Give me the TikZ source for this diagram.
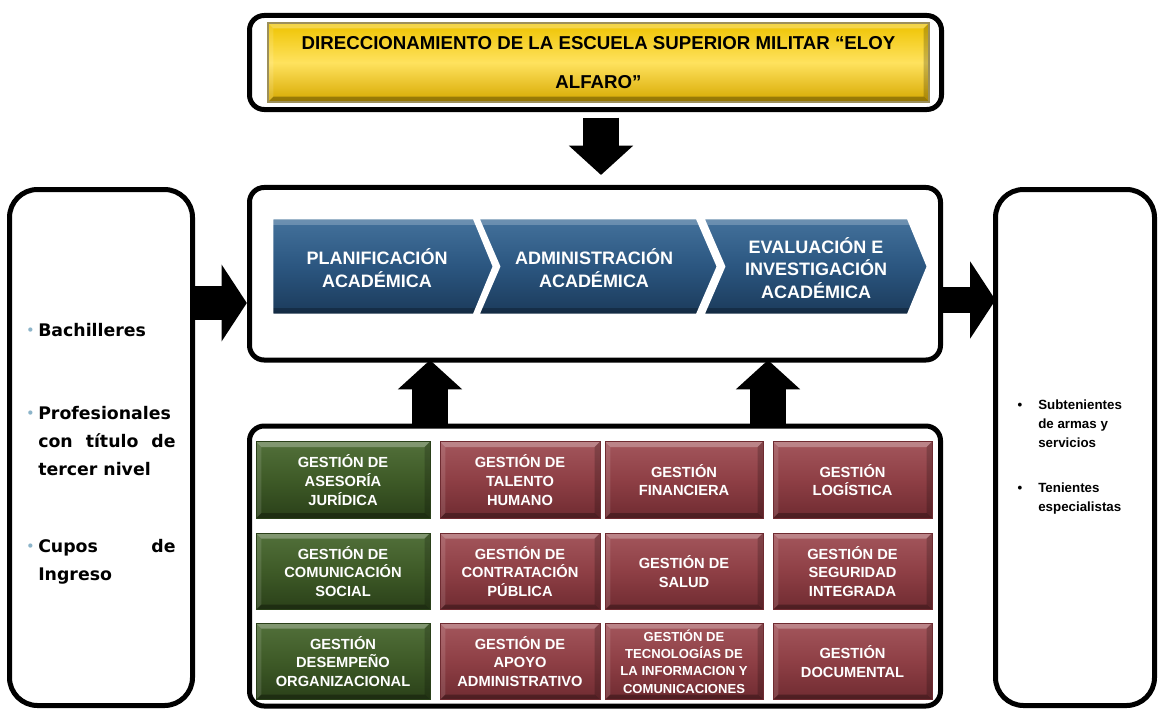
\documentclass[tikz,border=0pt]{standalone}
\usepackage{fontspec}
\setmainfont{Liberation Sans}
\newfontfamily\sidefont{DejaVu Sans}
\usepackage{xcolor}
\definecolor{chevtop}{HTML}{44729C}
\definecolor{chev}{HTML}{2B5680}
\definecolor{chevbot}{HTML}{1B3A5A}
\definecolor{wine}{HTML}{8E3F45}
\definecolor{winetop}{HTML}{A3565C}
\definecolor{winebot}{HTML}{6F2B31}
\definecolor{forest}{HTML}{3E5A27}
\definecolor{foresttop}{HTML}{52703A}
\definecolor{forestbot}{HTML}{2A4019}
\definecolor{goldtop}{HTML}{EEC300}
\definecolor{gold}{HTML}{FFE25E}
\definecolor{goldbot}{HTML}{D6A800}
\definecolor{goldedge}{HTML}{9C8F5A}
\definecolor{bulletblue}{HTML}{8CB4C9}
\usepackage{tikz}
\usetikzlibrary{arrows.meta, calc}

\newcommand{\leftdot}{\llap{\raisebox{1.5pt}{\textcolor{bulletblue}{\fontsize{9}{9}\selectfont\textbullet}}\hspace{3pt}}}
\newcommand{\rightdot}{\llap{\textbullet\hspace{12pt}}}

\begin{document}
\begin{tikzpicture}[x=0.75pt, y=-0.75pt,
  every node/.style={font=\bfseries},
  frame/.style={rectangle, draw=black, line width=3.75pt, rounded corners=11pt,
                fill=white, inner sep=0pt, outer sep=0pt},
  sideframe/.style={frame, rounded corners=21pt},
  bevel/.style={path picture={
    \fill[white, opacity=.28] (path picture bounding box.north west) -- (path picture bounding box.north east)
      -- ([shift={(-4pt,-4pt)}]path picture bounding box.north east) -- ([shift={(4pt,-4pt)}]path picture bounding box.north west) -- cycle;
    \fill[white, opacity=.12] (path picture bounding box.north west) -- ([shift={(4pt,-4pt)}]path picture bounding box.north west)
      -- ([shift={(4pt,4pt)}]path picture bounding box.south west) -- (path picture bounding box.south west) -- cycle;
    \fill[black, opacity=.3] (path picture bounding box.south west) -- ([shift={(4pt,4pt)}]path picture bounding box.south west)
      -- ([shift={(-4pt,4pt)}]path picture bounding box.south east) -- (path picture bounding box.south east) -- cycle;
    \fill[black, opacity=.2] (path picture bounding box.south east) -- ([shift={(-4pt,4pt)}]path picture bounding box.south east)
      -- ([shift={(-4pt,-4pt)}]path picture bounding box.north east) -- (path picture bounding box.north east) -- cycle;
  }},
  chevbevel/.style={path picture={
    \fill[white, opacity=.22] (path picture bounding box.north west) rectangle ([yshift=-5pt]path picture bounding box.north east);
    \fill[black, opacity=.25] (path picture bounding box.south west) rectangle ([yshift=5pt]path picture bounding box.south east);
  }},
  chevron/.style={top color=chevtop, bottom color=chevbot, middle color=chev,
                  draw=white, line width=2pt, line join=miter, chevbevel},
  chevtext/.style={text=white, align=center, font=\fontsize{13.5}{17}\selectfont\bfseries},
  tile/.style={rectangle, inner sep=0pt, outer sep=0pt, draw=#1bot, line width=.6pt,
               top color=#1top, bottom color=#1bot, middle color=#1, bevel,
               text=white, align=center, minimum height=57.5pt,
               font=\fontsize{11}{14}\selectfont\bfseries},
  bigarrow/.style={draw=black, line width=27pt, -{Triangle[width=47pt, length=22pt]}},
  sidearrow/.style={draw=black, line width=#1, -{Triangle[width=57pt, length=19pt]}},
  lefttext/.style={anchor=north west, inner sep=0pt, align=left,
                   font=\sidefont\fontsize{13}{21}\selectfont\bfseries},
  righttext/.style={anchor=north west, inner sep=0pt, align=left,
                    font=\fontsize{10}{14}\selectfont\bfseries}
]
  \useasboundingbox (0,0) rectangle (1162,710);

  % frames
  \node[frame, minimum width=519pt, minimum height=70.5pt] (topbox) at (595.5,62.5) {};
  \node[frame, minimum width=518.25pt, minimum height=129.4pt] (midbox) at (595,273.75) {};
  \node[frame, minimum width=518.25pt, minimum height=210pt] (botbox) at (595,566) {};
  \node[sideframe, minimum width=137.25pt, minimum height=387pt] (leftbox) at (101,447.5) {};
  \node[sideframe, minimum width=119.25pt, minimum height=387pt] (rightbox) at (1075,447.5) {};

  % heading bar
  \node[rectangle, inner sep=0pt, draw=goldedge, line width=1.5pt,
        top color=goldtop, bottom color=goldbot, middle color=gold, bevel,
        minimum width=495.75pt, minimum height=59.25pt, align=center,
        font=\fontsize{14}{17}\selectfont\bfseries] (dirbar) at (598.5,62.5)
    {DIRECCIONAMIENTO DE LA ESCUELA SUPERIOR MILITAR “ELOY\\[12pt]ALFARO”};

  % process chevrons
  \path[chevron] (272,218) -- (474,218) -- (494,266.5) -- (474,315) -- (272,315) -- cycle;
  \path[chevron] (478,218) -- (697,218) -- (718,266.5) -- (697,315) -- (478,315) -- (499,266.5) -- cycle;
  \path[chevron] (703,218) -- (908,218) -- (928,266.5) -- (908,315) -- (703,315) -- (724,266.5) -- cycle;
  \node[chevtext] (plan) at (377,268) {PLANIFICACIÓN\\ACADÉMICA};
  \node[chevtext] (admin) at (594,268) {ADMINISTRACIÓN\\ACADÉMICA};
  \node[chevtext] (evalua) at (816,268) {EVALUACIÓN E\\INVESTIGACIÓN\\ACADÉMICA};

  % support processes
  \node[tile=forest, minimum width=130.5pt] (juridica) at (343,480) {GESTIÓN DE\\ASESORÍA\\JURÍDICA};
  \node[tile=wine, minimum width=120pt] (talento) at (520,480) {GESTIÓN DE\\TALENTO\\HUMANO};
  \node[tile=wine, minimum width=118.5pt] (financiera) at (684,480) {GESTIÓN\\FINANCIERA};
  \node[tile=wine, minimum width=119.25pt] (logistica) at (852.5,480) {GESTIÓN\\LOGÍSTICA};

  \node[tile=forest, minimum width=130.5pt] (comunicacion) at (343,571.5) {GESTIÓN DE\\COMUNICACIÓN\\SOCIAL};
  \node[tile=wine, minimum width=120pt] (contratacion) at (520,571.5) {GESTIÓN DE\\CONTRATACIÓN\\PÚBLICA};
  \node[tile=wine, minimum width=118.5pt] (salud) at (684,571.5) {GESTIÓN DE\\SALUD};
  \node[tile=wine, minimum width=119.25pt] (seguridad) at (852.5,571.5) {GESTIÓN DE\\SEGURIDAD\\INTEGRADA};

  \node[tile=forest, minimum width=130.5pt] (desempeno) at (343,661.5) {GESTIÓN\\DESEMPEÑO\\ORGANIZACIONAL};
  \node[tile=wine, minimum width=120pt] (apoyo) at (520,661.5) {GESTIÓN DE\\APOYO\\ADMINISTRATIVO};
  \node[tile=wine, minimum width=118.5pt, font=\fontsize{9.8}{13}\selectfont\bfseries] (tics) at (684,661.5)
    {GESTIÓN DE\\TECNOLOGÍAS DE\\LA INFORMACION Y\\COMUNICACIONES};
  \node[tile=wine, minimum width=119.25pt] (documental) at (852.5,661.5) {GESTIÓN\\DOCUMENTAL};

  % inputs and outputs
  \node[lefttext] (bach) at (38,323) {\leftdot Bachilleres};
  \node[lefttext] (prof) at (38,406)
    {\leftdot Profesionales\\\makebox[103pt][s]{con título de}\\tercer nivel};
  \node[lefttext] (cupos) at (38,539) {\leftdot\makebox[103pt][s]{Cupos de}\\Ingreso};

  \node[righttext] (subte) at (1038,400) {\rightdot Subtenientes\\de armas y\\servicios};
  \node[righttext] (tenie) at (1038,483) {\rightdot Tenientes\\especialistas};

  % block arrows
  \coordinate (feed) at (0,303);
  \coordinate (out) at (0,300);
  \coordinate (gap) at ($(financiera.east)!.5!(logistica.west)$);
  \draw[bigarrow] ($(topbox.south)+(5.5,8)$) -- ($(midbox.north)+(6,-12.5)$);
  \draw[sidearrow=26pt] (leftbox.east |- feed) -- ([xshift=-2pt]midbox.west |- feed);
  \draw[sidearrow=19pt] (midbox.east |- out) -- (rightbox.west |- out);
  \draw[bigarrow] (botbox.north -| juridica.east) -- (midbox.south -| juridica.east);
  \draw[bigarrow] (botbox.north -| gap) -- (midbox.south -| gap);
\end{tikzpicture}
\end{document}
